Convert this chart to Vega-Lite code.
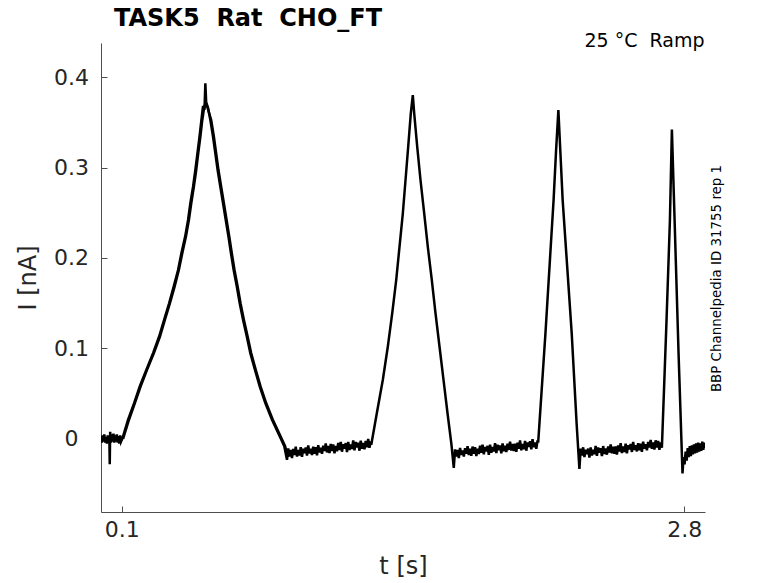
{
  "$schema": "https://vega.github.io/schema/vega-lite/v6.json",
  "autosize": {"type": "none"},
  "padding": {"left": 101, "top": 43, "right": 73, "bottom": 71},
  "width": 604,
  "height": 469,
  "background": "white",
  "config": {"view": {"stroke": null}, "font": "DejaVu Sans"},
  "title": {"text": "TASK5\u00a0 Rat\u00a0 CHO_FT", "anchor": "start", "frame": "group", "dx": 13, "fontSize": 24, "fontWeight": "bold", "color": "black", "font": "DejaVu Sans", "offset": 1},
  "data": {"values": [
    {"s": "a", "t": 0.000, "I": 0.003}, {"s": "a", "t": 0.004, "I": -0.004}, {"s": "a", "t": 0.008, "I": 0.004}, {"s": "a", "t": 0.012, "I": -0.003},
    {"s": "a", "t": 0.016, "I": 0.005}, {"s": "a", "t": 0.020, "I": -0.004}, {"s": "a", "t": 0.024, "I": 0.002}, {"s": "a", "t": 0.028, "I": -0.005},
    {"s": "a", "t": 0.032, "I": 0.004}, {"s": "a", "t": 0.036, "I": -0.003}, {"s": "a", "t": 0.040, "I": 0.003}, {"s": "a", "t": 0.042, "I": -0.028},
    {"s": "a", "t": 0.044, "I": 0.008}, {"s": "a", "t": 0.048, "I": -0.004}, {"s": "a", "t": 0.052, "I": 0.005}, {"s": "a", "t": 0.056, "I": -0.003},
    {"s": "a", "t": 0.060, "I": 0.006}, {"s": "a", "t": 0.064, "I": -0.004}, {"s": "a", "t": 0.068, "I": 0.004}, {"s": "a", "t": 0.072, "I": -0.003},
    {"s": "a", "t": 0.076, "I": 0.005}, {"s": "a", "t": 0.080, "I": -0.004}, {"s": "a", "t": 0.084, "I": 0.003}, {"s": "a", "t": 0.088, "I": -0.005},
    {"s": "a", "t": 0.092, "I": 0.004}, {"s": "a", "t": 0.096, "I": -0.003}, {"s": "a", "t": 0.1034, "I": 0.001},
    {"s": "a", "t": 0.130, "I": 0.0213}, {"s": "a", "t": 0.159, "I": 0.0397}, {"s": "a", "t": 0.186, "I": 0.0581}, {"s": "a", "t": 0.218, "I": 0.0765},
    {"s": "a", "t": 0.250, "I": 0.0949}, {"s": "a", "t": 0.279, "I": 0.1132}, {"s": "a", "t": 0.303, "I": 0.1317}, {"s": "a", "t": 0.327, "I": 0.150},
    {"s": "a", "t": 0.349, "I": 0.1684}, {"s": "a", "t": 0.370, "I": 0.1868}, {"s": "a", "t": 0.386, "I": 0.2053}, {"s": "a", "t": 0.404, "I": 0.2236},
    {"s": "a", "t": 0.418, "I": 0.242}, {"s": "a", "t": 0.429, "I": 0.2605}, {"s": "a", "t": 0.442, "I": 0.2788}, {"s": "a", "t": 0.453, "I": 0.2972},
    {"s": "a", "t": 0.463, "I": 0.3157}, {"s": "a", "t": 0.473, "I": 0.334}, {"s": "a", "t": 0.482, "I": 0.3524}, {"s": "a", "t": 0.490, "I": 0.368},
    {"s": "a", "t": 0.497, "I": 0.364}, {"s": "a", "t": 0.501, "I": 0.393}, {"s": "a", "t": 0.505, "I": 0.372}, {"s": "a", "t": 0.514, "I": 0.366},
    {"s": "a", "t": 0.525, "I": 0.3524}, {"s": "a", "t": 0.538, "I": 0.334}, {"s": "a", "t": 0.549, "I": 0.3157}, {"s": "a", "t": 0.560, "I": 0.2972},
    {"s": "a", "t": 0.573, "I": 0.2788}, {"s": "a", "t": 0.586, "I": 0.2605}, {"s": "a", "t": 0.599, "I": 0.242}, {"s": "a", "t": 0.612, "I": 0.2236},
    {"s": "a", "t": 0.624, "I": 0.2053}, {"s": "a", "t": 0.637, "I": 0.1868}, {"s": "a", "t": 0.652, "I": 0.1684}, {"s": "a", "t": 0.666, "I": 0.150},
    {"s": "a", "t": 0.682, "I": 0.1317}, {"s": "a", "t": 0.700, "I": 0.1132}, {"s": "a", "t": 0.717, "I": 0.0949}, {"s": "a", "t": 0.739, "I": 0.0765},
    {"s": "a", "t": 0.762, "I": 0.0581}, {"s": "a", "t": 0.789, "I": 0.0397}, {"s": "a", "t": 0.821, "I": 0.0213}, {"s": "a", "t": 0.858, "I": 0.003},
    {"s": "a", "t": 0.880, "I": -0.008}, {"s": "a", "t": 0.893, "I": -0.023},
    {"s": "a", "t": 0.899, "I": -0.0105}, {"s": "a", "t": 0.905, "I": -0.01935}, {"s": "a", "t": 0.911, "I": -0.0122}, {"s": "a", "t": 0.917, "I": -0.02105},
    {"s": "a", "t": 0.923, "I": -0.0109}, {"s": "a", "t": 0.929, "I": -0.01775}, {"s": "a", "t": 0.935, "I": -0.0086}, {"s": "a", "t": 0.941, "I": -0.01945},
    {"s": "a", "t": 0.947, "I": -0.0123}, {"s": "a", "t": 0.953, "I": -0.01815}, {"s": "a", "t": 0.959, "I": -0.0090}, {"s": "a", "t": 0.965, "I": -0.01985},
    {"s": "a", "t": 0.971, "I": -0.0107}, {"s": "a", "t": 0.977, "I": -0.01555}, {"s": "a", "t": 0.983, "I": -0.0094}, {"s": "a", "t": 0.989, "I": -0.01825},
    {"s": "a", "t": 0.995, "I": -0.0071}, {"s": "a", "t": 1.001, "I": -0.01595}, {"s": "a", "t": 1.007, "I": -0.0108}, {"s": "a", "t": 1.013, "I": -0.01765},
    {"s": "a", "t": 1.019, "I": -0.0085}, {"s": "a", "t": 1.025, "I": -0.01635}, {"s": "a", "t": 1.031, "I": -0.0092}, {"s": "a", "t": 1.037, "I": -0.01805},
    {"s": "a", "t": 1.043, "I": -0.0069}, {"s": "a", "t": 1.049, "I": -0.01475}, {"s": "a", "t": 1.055, "I": -0.0096}, {"s": "a", "t": 1.061, "I": -0.01645},
    {"s": "a", "t": 1.067, "I": -0.0073}, {"s": "a", "t": 1.073, "I": -0.01315}, {"s": "a", "t": 1.079, "I": -0.0050}, {"s": "a", "t": 1.085, "I": -0.01485},
    {"s": "a", "t": 1.091, "I": -0.0077}, {"s": "a", "t": 1.097, "I": -0.01555}, {"s": "a", "t": 1.103, "I": -0.0054}, {"s": "a", "t": 1.109, "I": -0.01325},
    {"s": "a", "t": 1.115, "I": -0.0061}, {"s": "a", "t": 1.121, "I": -0.01595}, {"s": "a", "t": 1.127, "I": -0.0078}, {"s": "a", "t": 1.133, "I": -0.01365},
    {"s": "a", "t": 1.139, "I": -0.0045}, {"s": "a", "t": 1.145, "I": -0.01235}, {"s": "a", "t": 1.151, "I": -0.0032}, {"s": "a", "t": 1.157, "I": -0.01405},
    {"s": "a", "t": 1.163, "I": -0.0059}, {"s": "a", "t": 1.169, "I": -0.01075}, {"s": "a", "t": 1.175, "I": -0.0046}, {"s": "a", "t": 1.181, "I": -0.01445},
    {"s": "a", "t": 1.187, "I": -0.0033}, {"s": "a", "t": 1.193, "I": -0.01215}, {"s": "a", "t": 1.199, "I": -0.0060}, {"s": "a", "t": 1.205, "I": -0.01085},
    {"s": "a", "t": 1.211, "I": -0.0017}, {"s": "a", "t": 1.217, "I": -0.01255}, {"s": "a", "t": 1.223, "I": -0.0034}, {"s": "a", "t": 1.229, "I": -0.00925},
    {"s": "a", "t": 1.235, "I": -0.0041}, {"s": "a", "t": 1.241, "I": -0.01295}, {"s": "a", "t": 1.247, "I": -0.0018}, {"s": "a", "t": 1.253, "I": -0.01065},
    {"s": "a", "t": 1.259, "I": -0.0045}, {"s": "a", "t": 1.265, "I": -0.01135}, {"s": "a", "t": 1.271, "I": -0.0022}, {"s": "a", "t": 1.277, "I": -0.00905},
    {"s": "a", "t": 1.283, "I": 0.0001}, {"s": "a", "t": 1.289, "I": -0.00975}, {"s": "a", "t": 1.295, "I": -0.0026},
    {"s": "a", "t": 1.2976, "I": -0.0063}, {"s": "a", "t": 1.3245, "I": 0.0287}, {"s": "a", "t": 1.3532, "I": 0.0655}, {"s": "a", "t": 1.3772, "I": 0.1022},
    {"s": "a", "t": 1.3983, "I": 0.139}, {"s": "a", "t": 1.4175, "I": 0.1758}, {"s": "a", "t": 1.4333, "I": 0.2126}, {"s": "a", "t": 1.4492, "I": 0.2494},
    {"s": "a", "t": 1.4621, "I": 0.2862}, {"s": "a", "t": 1.475, "I": 0.323}, {"s": "a", "t": 1.4875, "I": 0.3598}, {"s": "a", "t": 1.4971, "I": 0.380},
    {"s": "a", "t": 1.5038, "I": 0.3598}, {"s": "a", "t": 1.5182, "I": 0.323}, {"s": "a", "t": 1.534, "I": 0.2862}, {"s": "a", "t": 1.5518, "I": 0.2494},
    {"s": "a", "t": 1.569, "I": 0.2126}, {"s": "a", "t": 1.5882, "I": 0.1758}, {"s": "a", "t": 1.606, "I": 0.139}, {"s": "a", "t": 1.6252, "I": 0.1022},
    {"s": "a", "t": 1.6444, "I": 0.0655}, {"s": "a", "t": 1.6636, "I": 0.0287}, {"s": "a", "t": 1.6827, "I": -0.0063}, {"s": "a", "t": 1.6938, "I": -0.032},
    {"s": "a", "t": 1.700, "I": -0.0115}, {"s": "a", "t": 1.706, "I": -0.01935}, {"s": "a", "t": 1.712, "I": -0.0122}, {"s": "a", "t": 1.718, "I": -0.02105},
    {"s": "a", "t": 1.724, "I": -0.0099}, {"s": "a", "t": 1.730, "I": -0.01775}, {"s": "a", "t": 1.736, "I": -0.0126}, {"s": "a", "t": 1.742, "I": -0.01945},
    {"s": "a", "t": 1.748, "I": -0.0103}, {"s": "a", "t": 1.754, "I": -0.01615}, {"s": "a", "t": 1.760, "I": -0.0080}, {"s": "a", "t": 1.766, "I": -0.01785},
    {"s": "a", "t": 1.772, "I": -0.0107}, {"s": "a", "t": 1.778, "I": -0.01855}, {"s": "a", "t": 1.784, "I": -0.0084}, {"s": "a", "t": 1.790, "I": -0.01625},
    {"s": "a", "t": 1.796, "I": -0.0091}, {"s": "a", "t": 1.802, "I": -0.01895}, {"s": "a", "t": 1.808, "I": -0.0108}, {"s": "a", "t": 1.814, "I": -0.01665},
    {"s": "a", "t": 1.820, "I": -0.0075}, {"s": "a", "t": 1.826, "I": -0.01535}, {"s": "a", "t": 1.832, "I": -0.0062}, {"s": "a", "t": 1.838, "I": -0.01705},
    {"s": "a", "t": 1.844, "I": -0.0089}, {"s": "a", "t": 1.850, "I": -0.01375}, {"s": "a", "t": 1.856, "I": -0.0076}, {"s": "a", "t": 1.862, "I": -0.01745},
    {"s": "a", "t": 1.868, "I": -0.0063}, {"s": "a", "t": 1.874, "I": -0.01515}, {"s": "a", "t": 1.880, "I": -0.0090}, {"s": "a", "t": 1.886, "I": -0.01385},
    {"s": "a", "t": 1.892, "I": -0.0047}, {"s": "a", "t": 1.898, "I": -0.01555}, {"s": "a", "t": 1.904, "I": -0.0064}, {"s": "a", "t": 1.910, "I": -0.01225},
    {"s": "a", "t": 1.916, "I": -0.0071}, {"s": "a", "t": 1.922, "I": -0.01595}, {"s": "a", "t": 1.928, "I": -0.0048}, {"s": "a", "t": 1.934, "I": -0.01365},
    {"s": "a", "t": 1.940, "I": -0.0075}, {"s": "a", "t": 1.946, "I": -0.01435}, {"s": "a", "t": 1.952, "I": -0.0052}, {"s": "a", "t": 1.958, "I": -0.01205},
    {"s": "a", "t": 1.964, "I": -0.0029}, {"s": "a", "t": 1.970, "I": -0.01275}, {"s": "a", "t": 1.976, "I": -0.0056}, {"s": "a", "t": 1.982, "I": -0.01345},
    {"s": "a", "t": 1.988, "I": -0.0053}, {"s": "a", "t": 1.994, "I": -0.01415}, {"s": "a", "t": 2.000, "I": -0.0040}, {"s": "a", "t": 2.006, "I": -0.01085},
    {"s": "a", "t": 2.012, "I": -0.0017}, {"s": "a", "t": 2.018, "I": -0.01255}, {"s": "a", "t": 2.024, "I": -0.0054}, {"s": "a", "t": 2.030, "I": -0.01125},
    {"s": "a", "t": 2.036, "I": -0.0021}, {"s": "a", "t": 2.042, "I": -0.01295}, {"s": "a", "t": 2.048, "I": -0.0038}, {"s": "a", "t": 2.054, "I": -0.00865},
    {"s": "a", "t": 2.060, "I": -0.0025}, {"s": "a", "t": 2.066, "I": -0.01135}, {"s": "a", "t": 2.072, "I": -0.0002}, {"s": "a", "t": 2.078, "I": -0.00905},
    {"s": "a", "t": 2.084, "I": -0.0039}, {"s": "a", "t": 2.090, "I": -0.01075}, {"s": "a", "t": 2.096, "I": -0.0016},
    {"s": "a", "t": 2.099, "I": -0.004}, {"s": "a", "t": 2.134, "I": 0.117}, {"s": "a", "t": 2.173, "I": 0.264}, {"s": "a", "t": 2.185, "I": 0.319},
    {"s": "a", "t": 2.196, "I": 0.3635}, {"s": "a", "t": 2.2166, "I": 0.264}, {"s": "a", "t": 2.260, "I": 0.117}, {"s": "a", "t": 2.2837, "I": 0.0165},
    {"s": "a", "t": 2.297, "I": -0.033},
    {"s": "a", "t": 2.303, "I": -0.0105}, {"s": "a", "t": 2.309, "I": -0.01835}, {"s": "a", "t": 2.315, "I": -0.0092}, {"s": "a", "t": 2.321, "I": -0.02005},
    {"s": "a", "t": 2.327, "I": -0.0119}, {"s": "a", "t": 2.333, "I": -0.01675}, {"s": "a", "t": 2.339, "I": -0.0106}, {"s": "a", "t": 2.345, "I": -0.02045},
    {"s": "a", "t": 2.351, "I": -0.0093}, {"s": "a", "t": 2.357, "I": -0.01815}, {"s": "a", "t": 2.363, "I": -0.0120}, {"s": "a", "t": 2.369, "I": -0.01685},
    {"s": "a", "t": 2.375, "I": -0.0077}, {"s": "a", "t": 2.381, "I": -0.01855}, {"s": "a", "t": 2.387, "I": -0.0094}, {"s": "a", "t": 2.393, "I": -0.01525},
    {"s": "a", "t": 2.399, "I": -0.0101}, {"s": "a", "t": 2.405, "I": -0.01895}, {"s": "a", "t": 2.411, "I": -0.0078}, {"s": "a", "t": 2.417, "I": -0.01665},
    {"s": "a", "t": 2.423, "I": -0.0105}, {"s": "a", "t": 2.429, "I": -0.01735}, {"s": "a", "t": 2.435, "I": -0.0082}, {"s": "a", "t": 2.441, "I": -0.01505},
    {"s": "a", "t": 2.447, "I": -0.0059}, {"s": "a", "t": 2.453, "I": -0.01575}, {"s": "a", "t": 2.459, "I": -0.0086}, {"s": "a", "t": 2.465, "I": -0.01645},
    {"s": "a", "t": 2.471, "I": -0.0083}, {"s": "a", "t": 2.477, "I": -0.01715}, {"s": "a", "t": 2.483, "I": -0.0070}, {"s": "a", "t": 2.489, "I": -0.01385},
    {"s": "a", "t": 2.495, "I": -0.0047}, {"s": "a", "t": 2.501, "I": -0.01555}, {"s": "a", "t": 2.507, "I": -0.0084}, {"s": "a", "t": 2.513, "I": -0.01425},
    {"s": "a", "t": 2.519, "I": -0.0051}, {"s": "a", "t": 2.525, "I": -0.01595}, {"s": "a", "t": 2.531, "I": -0.0068}, {"s": "a", "t": 2.537, "I": -0.01165},
    {"s": "a", "t": 2.543, "I": -0.0055}, {"s": "a", "t": 2.549, "I": -0.01435}, {"s": "a", "t": 2.555, "I": -0.0032}, {"s": "a", "t": 2.561, "I": -0.01205},
    {"s": "a", "t": 2.567, "I": -0.0069}, {"s": "a", "t": 2.573, "I": -0.01375}, {"s": "a", "t": 2.579, "I": -0.0046}, {"s": "a", "t": 2.585, "I": -0.01245},
    {"s": "a", "t": 2.591, "I": -0.0053}, {"s": "a", "t": 2.597, "I": -0.01415}, {"s": "a", "t": 2.603, "I": -0.0030}, {"s": "a", "t": 2.609, "I": -0.01085},
    {"s": "a", "t": 2.615, "I": -0.0057}, {"s": "a", "t": 2.621, "I": -0.01255}, {"s": "a", "t": 2.627, "I": -0.0034}, {"s": "a", "t": 2.633, "I": -0.00925},
    {"s": "a", "t": 2.639, "I": -0.0011}, {"s": "a", "t": 2.645, "I": -0.01095}, {"s": "a", "t": 2.651, "I": -0.0038}, {"s": "a", "t": 2.657, "I": -0.01165},
    {"s": "a", "t": 2.663, "I": -0.0015}, {"s": "a", "t": 2.669, "I": -0.00935}, {"s": "a", "t": 2.675, "I": -0.0022}, {"s": "a", "t": 2.681, "I": -0.01205},
    {"s": "a", "t": 2.687, "I": -0.0039}, {"s": "a", "t": 2.693, "I": -0.00975},
    {"s": "a", "t": 2.7154, "I": 0.1317}, {"s": "a", "t": 2.7316, "I": 0.242}, {"s": "a", "t": 2.741, "I": 0.342}, {"s": "a", "t": 2.754, "I": 0.242},
    {"s": "a", "t": 2.773, "I": 0.095}, {"s": "a", "t": 2.792, "I": -0.038},
    {"s": "a", "t": 2.797, "I": -0.020}, {"s": "a", "t": 2.802, "I": -0.028}, {"s": "a", "t": 2.807, "I": -0.014}, {"s": "a", "t": 2.812, "I": -0.024},
    {"s": "a", "t": 2.817, "I": -0.010}, {"s": "a", "t": 2.822, "I": -0.020}, {"s": "a", "t": 2.827, "I": -0.008}, {"s": "a", "t": 2.832, "I": -0.019},
    {"s": "a", "t": 2.837, "I": -0.007}, {"s": "a", "t": 2.842, "I": -0.017}, {"s": "a", "t": 2.847, "I": -0.006}, {"s": "a", "t": 2.852, "I": -0.016},
    {"s": "a", "t": 2.857, "I": -0.005}, {"s": "a", "t": 2.862, "I": -0.015}, {"s": "a", "t": 2.867, "I": -0.004}, {"s": "a", "t": 2.872, "I": -0.014},
    {"s": "a", "t": 2.877, "I": -0.005}, {"s": "a", "t": 2.882, "I": -0.013}, {"s": "a", "t": 2.887, "I": -0.003}, {"s": "a", "t": 2.892, "I": -0.012},
    {"s": "a", "t": 2.897, "I": -0.004}, {"s": "a", "t": 2.900, "I": -0.010},
    {"s": "b", "t": 0.106, "I": 0.000}, {"s": "b", "t": 0.134, "I": 0.021}, {"s": "b", "t": 0.163, "I": 0.040}, {"s": "b", "t": 0.190, "I": 0.058},
    {"s": "b", "t": 0.222, "I": 0.077}, {"s": "b", "t": 0.254, "I": 0.095}, {"s": "b", "t": 0.283, "I": 0.113}, {"s": "b", "t": 0.307, "I": 0.132},
    {"s": "b", "t": 0.331, "I": 0.150}, {"s": "b", "t": 0.353, "I": 0.168}, {"s": "b", "t": 0.374, "I": 0.187}, {"s": "b", "t": 0.390, "I": 0.205},
    {"s": "b", "t": 0.408, "I": 0.224}, {"s": "b", "t": 0.422, "I": 0.242}, {"s": "b", "t": 0.433, "I": 0.260}, {"s": "b", "t": 0.446, "I": 0.279},
    {"s": "b", "t": 0.457, "I": 0.297}, {"s": "b", "t": 0.467, "I": 0.316}, {"s": "b", "t": 0.477, "I": 0.334}, {"s": "b", "t": 0.486, "I": 0.352},
    {"s": "b", "t": 0.495, "I": 0.366}, {"s": "b", "t": 0.503, "I": 0.372}, {"s": "b", "t": 0.509, "I": 0.368}, {"s": "b", "t": 0.529, "I": 0.3524},
    {"s": "b", "t": 0.542, "I": 0.334}, {"s": "b", "t": 0.553, "I": 0.3157}, {"s": "b", "t": 0.564, "I": 0.2972}, {"s": "b", "t": 0.577, "I": 0.2788},
    {"s": "b", "t": 0.590, "I": 0.2605}, {"s": "b", "t": 0.603, "I": 0.242}, {"s": "b", "t": 0.616, "I": 0.2236}, {"s": "b", "t": 0.628, "I": 0.2053},
    {"s": "b", "t": 0.641, "I": 0.1868}, {"s": "b", "t": 0.656, "I": 0.1684}, {"s": "b", "t": 0.670, "I": 0.150}, {"s": "b", "t": 0.686, "I": 0.1317},
    {"s": "b", "t": 0.704, "I": 0.1132}, {"s": "b", "t": 0.721, "I": 0.0949}, {"s": "b", "t": 0.743, "I": 0.0765}, {"s": "b", "t": 0.766, "I": 0.0581},
    {"s": "b", "t": 0.793, "I": 0.0397}, {"s": "b", "t": 0.825, "I": 0.0213}, {"s": "b", "t": 0.862, "I": 0.003}, {"s": "b", "t": 0.884, "I": -0.008},
    {"s": "b", "t": 0.897, "I": -0.020}
  ]},
  "layer": [
    {
      "mark": {"type": "line", "color": "black", "strokeWidth": 2.5, "clip": true},
      "encoding": {
        "detail": {"field": "s", "type": "nominal"},
        "x": {"field": "t", "type": "quantitative",
              "scale": {"domain": [0, 2.9], "nice": false, "zero": false},
              "axis": {"orient": "bottom", "values": [0.1, 2.8], "format": ".1~f", "grid": false,
                       "domainColor": "#4d4d4d", "tickColor": "#4d4d4d", "tickSize": -6,
                       "labelFontSize": 22, "labelColor": "#262626", "labelPadding": 13, "labelFont": "DejaVu Sans",
                       "title": "t [s]", "titleFontSize": 24, "titleFontWeight": "normal", "titleColor": "#262626",
                       "titleFont": "DejaVu Sans", "titleX": 302, "titleY": 54, "titleBaseline": "middle"}},
        "y": {"field": "I", "type": "quantitative",
              "scale": {"domain": [-0.0807, 0.4376], "nice": false, "zero": false},
              "axis": {"orient": "left", "values": [0, 0.1, 0.2, 0.3, 0.4], "format": ".1~f", "grid": false,
                       "domainColor": "#4d4d4d", "tickColor": "#4d4d4d", "tickSize": -6,
                       "labelFontSize": 22, "labelColor": "#262626", "labelPadding": 36, "labelAlign": "center",
                       "labelBaseline": "middle", "labelFont": "DejaVu Sans",
                       "title": "I [nA]", "titleFontSize": 24, "titleFontWeight": "normal", "titleColor": "#262626",
                       "titleFont": "DejaVu Sans", "titleX": -73, "titleY": 234.5, "titleAngle": 270,
                       "titleAlign": "center", "titleBaseline": "middle"}}
      }
    },
    {
      "mark": {"type": "line", "strokeOpacity": 0},
      "encoding": {
        "detail": {"field": "s", "type": "nominal"},
        "x": {"field": "t", "type": "quantitative",
              "axis": {"orient": "top", "labels": false, "ticks": false, "domain": false, "grid": false,
                       "title": "25 °C\u00a0 Ramp", "titleFontSize": 19, "titleFontWeight": "normal", "titleColor": "black",
                       "titleFont": "DejaVu Sans", "titleX": 603, "titleY": 3.7, "titleAlign": "right",
                       "titleBaseline": "alphabetic", "titleAngle": 0}},
        "y": {"field": "I", "type": "quantitative",
              "axis": {"orient": "right", "labels": false, "ticks": false, "domain": false, "grid": false,
                       "title": "BBP Channelpedia ID 31755 rep 1", "titleFontSize": 13.4, "titleFontWeight": "normal",
                       "titleColor": "black", "titleFont": "DejaVu Sans", "titleX": 11.7, "titleY": 235,
                       "titleAngle": 270, "titleAlign": "center", "titleBaseline": "middle"}}
      }
    }
  ],
  "resolve": {"axis": {"x": "independent", "y": "independent"}}
}
